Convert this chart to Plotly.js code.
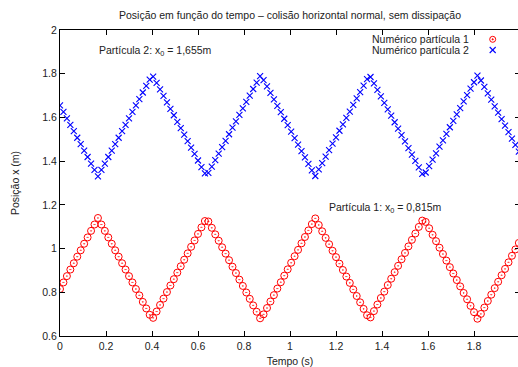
<!DOCTYPE html>
<html>
<head>
<meta charset="utf-8">
<script src="https://cdn.plot.ly/plotly-3.0.1.min.js"></script>
<style>
html,body{margin:0;padding:0;overflow:hidden;background:#fff;}
#chart{width:520px;height:367px;}
</style>
</head>
<body>
<div id="chart"></div>
<script>
// Sampling times (s)
const tempo = [0,0.015,0.03,0.045,0.06,0.075,0.09,0.105,0.12,0.135,0.15,0.165,0.18,0.195,0.21,0.225,0.24,0.255,0.27,0.285,0.3,0.315,0.33,0.345,0.36,0.375,0.39,0.405,0.42,0.435,0.45,0.465,0.48,0.495,0.51,0.525,0.54,0.555,0.57,0.585,0.6,0.615,0.63,0.645,0.66,0.675,0.69,0.705,0.72,0.735,0.75,0.765,0.78,0.795,0.81,0.825,0.84,0.855,0.87,0.885,0.9,0.915,0.93,0.945,0.96,0.975,0.99,1.005,1.02,1.035,1.05,1.065,1.08,1.095,1.11,1.125,1.14,1.155,1.17,1.185,1.2,1.215,1.23,1.245,1.26,1.275,1.29,1.305,1.32,1.335,1.35,1.365,1.38,1.395,1.41,1.425,1.44,1.455,1.47,1.485,1.5,1.515,1.53,1.545,1.56,1.575,1.59,1.605,1.62,1.635,1.65,1.665,1.68,1.695,1.71,1.725,1.74,1.755,1.77,1.785,1.8,1.815,1.83,1.845,1.86,1.875,1.89,1.905,1.92,1.935,1.95,1.965,1.98,1.995];

// Particle 1 position (m)
const particula1 = [0.815,0.845,0.874,0.904,0.933,0.963,0.992,1.022,1.051,1.081,1.110,1.140,1.110,1.081,1.051,1.022,0.992,0.963,0.933,0.904,0.874,0.845,0.815,0.786,0.756,0.726,0.697,0.683,0.712,0.742,0.771,0.801,0.831,0.860,0.890,0.919,0.949,0.978,1.008,1.037,1.067,1.097,1.126,1.124,1.095,1.065,1.036,1.006,0.977,0.947,0.917,0.888,0.858,0.829,0.799,0.770,0.740,0.711,0.681,0.699,0.728,0.758,0.787,0.817,0.846,0.876,0.905,0.935,0.965,0.994,1.024,1.053,1.083,1.112,1.138,1.108,1.079,1.049,1.020,0.990,0.961,0.931,0.902,0.872,0.843,0.813,0.783,0.754,0.724,0.695,0.685,0.714,0.744,0.774,0.803,0.833,0.862,0.892,0.921,0.951,0.980,1.010,1.040,1.069,1.099,1.128,1.122,1.093,1.063,1.034,1.004,0.975,0.945,0.915,0.886,0.856,0.827,0.797,0.768,0.738,0.709,0.679,0.701,0.730,0.760,0.789,0.819,0.848,0.878,0.907,0.937,0.967,0.996,1.026];

// Particle 2 position (m)
const particula2 = [1.655,1.625,1.596,1.566,1.537,1.507,1.478,1.448,1.419,1.389,1.360,1.330,1.360,1.389,1.419,1.448,1.478,1.507,1.537,1.566,1.596,1.625,1.655,1.684,1.714,1.744,1.773,1.787,1.758,1.728,1.699,1.669,1.639,1.610,1.580,1.551,1.521,1.492,1.462,1.433,1.403,1.373,1.344,1.346,1.375,1.405,1.434,1.464,1.493,1.523,1.553,1.582,1.612,1.641,1.671,1.700,1.730,1.759,1.789,1.771,1.742,1.712,1.683,1.653,1.624,1.594,1.565,1.535,1.505,1.476,1.446,1.417,1.387,1.358,1.332,1.362,1.391,1.421,1.450,1.480,1.509,1.539,1.568,1.598,1.627,1.657,1.687,1.716,1.746,1.775,1.785,1.756,1.726,1.696,1.667,1.637,1.608,1.578,1.549,1.519,1.490,1.460,1.430,1.401,1.371,1.342,1.348,1.377,1.407,1.436,1.466,1.495,1.525,1.555,1.584,1.614,1.643,1.673,1.702,1.732,1.761,1.791,1.769,1.740,1.710,1.681,1.651,1.622,1.592,1.563,1.533,1.503,1.474,1.444];

const xTicks = [0,0.2,0.4,0.6,0.8,1,1.2,1.4,1.6,1.8,2];
const xTickText = ['0','0.2','0.4','0.6','0.8','1','1.2','1.4','1.6','1.8','2'];
const yTicks = [0.6,0.8,1,1.2,1.4,1.6,1.8,2];
const yTickText = ['0.6','0.8','1','1.2','1.4','1.6','1.8','2'];

const seriesNames = ['Numérico partícula 1','Numérico partícula 2'];

const FONT = 'Liberation Sans, Arial, sans-serif';
const FS = 10.5;
const TXT = '#222';

const traces = [
  {x: tempo, y: particula1, mode: 'markers', type: 'scatter', name: seriesNames[0],
   marker: {symbol: 'circle-open-dot', size: 7, color: '#ff0000', line: {width: 1, color: '#ff0000'}}},
  {x: tempo, y: particula2, mode: 'markers', type: 'scatter', name: seriesNames[1],
   marker: {symbol: 'x-thin-open', size: 6, color: '#0000ff', line: {width: 1.1, color: '#0000ff'}}}
];

const axisCommon = {
  showgrid: false, zeroline: false, showline: true, linecolor: '#000', linewidth: 1,
  ticks: 'inside', ticklen: 5, tickwidth: 1, tickcolor: '#000', mirror: 'ticks',
  tickfont: {family: FONT, size: FS, color: TXT}, tickmode: 'array'
};

const layout = {
  width: 520, height: 367,
  margin: {l: 60, r: 0, t: 30, b: 31},
  paper_bgcolor: '#fff', plot_bgcolor: '#fff',
  showlegend: false,
  font: {family: FONT, size: FS, color: TXT},
  title: {text: 'Posição em função do tempo – colisão horizontal normal, sem dissipação',
          font: {family: FONT, size: FS, color: TXT}, xref: 'paper', x: 0.5, xanchor: 'center',
          yref: 'container', y: 1 - 15/367, yanchor: 'middle'},
  xaxis: Object.assign({}, axisCommon, {range: [0, 2], tickvals: xTicks, ticktext: xTickText,
          title: {text: 'Tempo (s)', font: {family: FONT, size: FS, color: TXT}, standoff: 9}}),
  yaxis: Object.assign({}, axisCommon, {range: [0.6, 2], tickvals: yTicks, ticktext: yTickText,
          title: {text: 'Posição x (m)', font: {family: FONT, size: FS, color: TXT}, standoff: 20}}),
  annotations: [
    {xref: 'x', yref: 'y', x: 0.16, y: 1.905, xanchor: 'left', yanchor: 'middle', showarrow: false,
     text: 'Partícula 2: x<sub>0</sub> = 1,655m', font: {family: FONT, size: FS, color: TXT}},
    {xref: 'x', yref: 'y', x: 1.16, y: 1.184, xanchor: 'left', yanchor: 'middle', showarrow: false,
     text: 'Partícula 1: x<sub>0</sub> = 0,815m', font: {family: FONT, size: FS, color: TXT}},
    {xref: 'paper', yref: 'paper', x: (471-60)/460, y: (336-39)/306, xanchor: 'right', yanchor: 'middle', showarrow: false,
     text: seriesNames[0], font: {family: FONT, size: FS, color: TXT}},
    {xref: 'paper', yref: 'paper', x: (471-60)/460, y: (336-50)/306, xanchor: 'right', yanchor: 'middle', showarrow: false,
     text: seriesNames[1], font: {family: FONT, size: FS, color: TXT}}
  ],
  shapes: [
    // legend sample: red circle with dot
    {type: 'circle', xref: 'paper', yref: 'paper', xsizemode: 'pixel', ysizemode: 'pixel',
     xanchor: (492.7-60)/460, yanchor: (336-39.3)/306, x0: -3, x1: 3, y0: -3, y1: 3,
     line: {color: '#ff0000', width: 1}},
    {type: 'circle', xref: 'paper', yref: 'paper', xsizemode: 'pixel', ysizemode: 'pixel',
     xanchor: (492.7-60)/460, yanchor: (336-39.3)/306, x0: -0.6, x1: 0.6, y0: -0.6, y1: 0.6,
     line: {color: '#ff0000', width: 1}, fillcolor: '#ff0000'},
    // legend sample: blue x
    {type: 'line', xref: 'paper', yref: 'paper', xsizemode: 'pixel', ysizemode: 'pixel',
     xanchor: (492.7-60)/460, yanchor: (336-50)/306, x0: -3, x1: 3, y0: -3, y1: 3,
     line: {color: '#0000ff', width: 1.1}},
    {type: 'line', xref: 'paper', yref: 'paper', xsizemode: 'pixel', ysizemode: 'pixel',
     xanchor: (492.7-60)/460, yanchor: (336-50)/306, x0: -3, x1: 3, y0: 3, y1: -3,
     line: {color: '#0000ff', width: 1.1}}
  ]
};

Plotly.newPlot('chart', traces, layout, {displayModeBar: false, staticPlot: true});
</script>
</body>
</html>
